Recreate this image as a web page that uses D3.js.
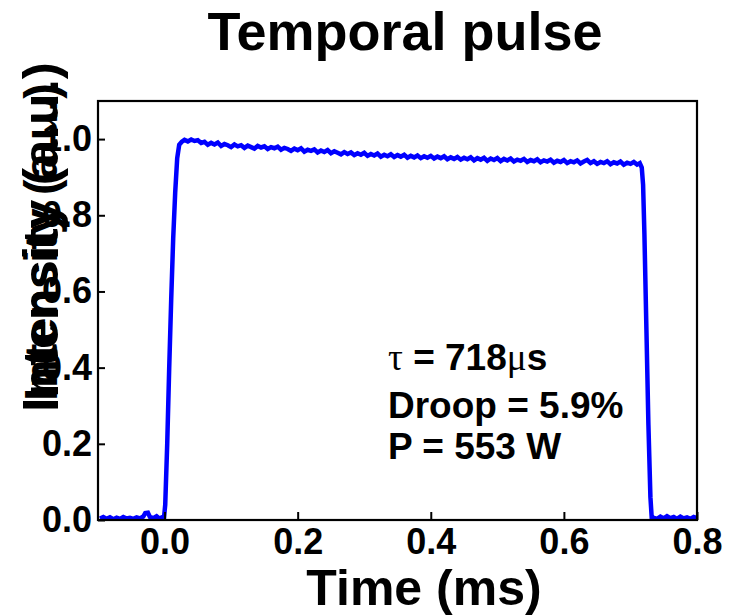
<!DOCTYPE html>
<html>
<head>
<meta charset="utf-8">
<script src="https://cdn.jsdelivr.net/npm/d3@7/dist/d3.min.js"></script>
<style>
  html, body { margin: 0; padding: 0; background: #fff; }
  svg { display: block; }
  text { font-family: "Liberation Sans", Arial, sans-serif; font-weight: bold; fill: #000; }
</style>
</head>
<body>
<svg id="chart" width="738" height="615"></svg>
<script>
// ---- Data ----
const titleText = "Temporal pulse";
const xLabel = "Time (ms)";
const yLabel = "Intensity (a.u.)";
const xTicks = [0.0, 0.2, 0.4, 0.6, 0.8];
const yTicks = [0.0, 0.2, 0.4, 0.6, 0.8, 1.0];
const xDomain = [-0.1, 0.8];
const yDomain = [0, 1.1];

// pre-pulse baseline
const preTime = [-0.097,-0.092,-0.087,-0.082,-0.077,-0.072,-0.067,-0.062,-0.057,-0.052,-0.047,-0.042,-0.037,-0.032,-0.029,-0.025,-0.022,-0.017,-0.012,-0.008,-0.004,-0.001];
const preVal  = [0.004,0.008,0.003,0.007,0.002,0.006,0.003,0.008,0.004,0.006,0.003,0.007,0.004,0.009,0.018,0.019,0.008,0.005,0.010,0.004,0.007,0.003];
// rising edge
const riseTime = [0.001,0.004,0.007,0.010,0.013,0.016,0.019,0.022,0.026];
const riseVal  = [0.04,0.20,0.40,0.58,0.74,0.86,0.95,0.985,0.993];
// flat top (with droop)
const topTime = [0.030,0.035,0.040,0.045,0.050,0.055,0.060,0.065,0.070,0.075,0.080,0.085,0.090,0.095,0.100,0.105,0.110,0.115,0.120,0.125,0.130,0.135,0.140,0.145,0.150,0.155,0.160,0.165,0.170,0.175,0.180,0.185,0.190,0.195,0.200,0.205,0.210,0.215,0.220,0.225,0.230,0.235,0.240,0.245,0.250,0.255,0.260,0.265,0.270,0.275,0.280,0.285,0.290,0.295,0.300,0.305,0.310,0.315,0.320,0.325,0.330,0.335,0.340,0.345,0.350,0.355,0.360,0.365,0.370,0.375,0.380,0.385,0.390,0.395,0.400,0.405,0.410,0.415,0.420,0.425,0.430,0.435,0.440,0.445,0.450,0.455,0.460,0.465,0.470,0.475,0.480,0.485,0.490,0.495,0.500,0.505,0.510,0.515,0.520,0.525,0.530,0.535,0.540,0.545,0.550,0.555,0.560,0.565,0.570,0.575,0.580,0.585,0.590,0.595,0.600,0.605,0.610,0.615,0.620,0.625,0.630,0.635,0.640,0.645,0.650,0.655,0.660,0.665,0.670,0.675,0.680,0.685,0.690,0.695,0.700,0.705,0.710,0.714];
const topVal  = [0.998,0.994,0.999,0.995,0.997,0.990,0.993,0.985,0.990,0.986,0.991,0.982,0.987,0.984,0.979,0.986,0.981,0.984,0.977,0.983,0.979,0.975,0.982,0.978,0.981,0.974,0.979,0.976,0.980,0.972,0.977,0.974,0.969,0.975,0.971,0.976,0.967,0.972,0.969,0.973,0.965,0.970,0.966,0.971,0.963,0.968,0.964,0.960,0.966,0.961,0.965,0.958,0.963,0.959,0.964,0.956,0.961,0.957,0.962,0.954,0.959,0.955,0.960,0.953,0.958,0.954,0.959,0.951,0.956,0.952,0.957,0.950,0.955,0.951,0.956,0.949,0.954,0.950,0.955,0.947,0.952,0.948,0.953,0.946,0.951,0.947,0.952,0.944,0.950,0.946,0.951,0.943,0.949,0.945,0.950,0.942,0.948,0.944,0.949,0.941,0.946,0.943,0.948,0.940,0.945,0.942,0.947,0.939,0.944,0.941,0.946,0.938,0.943,0.940,0.945,0.937,0.942,0.939,0.944,0.936,0.941,0.945,0.937,0.942,0.935,0.940,0.937,0.942,0.934,0.939,0.936,0.941,0.933,0.938,0.935,0.940,0.933,0.937];
// falling edge
const fallTime = [0.717,0.719,0.721,0.724,0.727,0.730,0.732];
const fallVal  = [0.925,0.88,0.75,0.50,0.25,0.06,0.005];
// post-pulse baseline
const postTime = [0.735,0.740,0.745,0.750,0.755,0.760,0.765,0.770,0.775,0.780,0.785,0.790,0.795,0.800];
const postVal  = [0.006,0.003,0.009,0.004,0.010,0.005,0.008,0.003,0.009,0.004,0.007,0.003,0.008,0.005];

const annotLines = ["= 718", "Droop = 5.9%", "P = 553 W"];

// ---- Build series ----
const times = [].concat(preTime, riseTime, topTime, fallTime, postTime);
const vals  = [].concat(preVal, riseVal, topVal, fallVal, postVal);
const series = times.map((t, i) => ({ t: t, v: vals[i] }));

// ---- Layout ----
const svg = d3.select("#chart");
const L = 98, R = 697, T = 101, B = 520;

const x = d3.scaleLinear().domain(xDomain).range([L, R]);
const y = d3.scaleLinear().domain(yDomain).range([B, T]);

svg.append("defs").append("clipPath").attr("id", "clip")
  .append("rect").attr("x", L).attr("y", T - 2).attr("width", R - L).attr("height", B - T + 2);

// data line
svg.append("path")
  .datum(series)
  .attr("clip-path", "url(#clip)")
  .attr("fill", "none")
  .attr("stroke", "#0000ff")
  .attr("stroke-width", 4.5)
  .attr("stroke-linejoin", "miter")
  .attr("d", d3.line().x(d => x(d.t)).y(d => y(d.v)));

// frame
svg.append("rect")
  .attr("x", L).attr("y", T).attr("width", R - L).attr("height", B - T)
  .attr("fill", "none").attr("stroke", "#000").attr("stroke-width", 2.2);

// axes
const xAxis = d3.axisBottom(x).tickValues(xTicks).tickFormat(d3.format(".1f"))
  .tickSizeInner(-8).tickSizeOuter(0).tickPadding(8);
const gx = svg.append("g").attr("transform", `translate(0,${B})`).call(xAxis);
gx.select(".domain").remove();
gx.selectAll(".tick line").attr("stroke", "#000").attr("stroke-width", 2);
gx.selectAll(".tick text").attr("font-size", 36).attr("font-family", "Liberation Sans, Arial, sans-serif").attr("font-weight", "bold");

const yAxis = d3.axisLeft(y).tickValues(yTicks).tickFormat(d3.format(".1f"))
  .tickSizeInner(-7).tickSizeOuter(0).tickPadding(6);
const gy = svg.append("g").attr("transform", `translate(${L},0)`).call(yAxis);
gy.select(".domain").remove();
gy.selectAll(".tick line").attr("stroke", "#000").attr("stroke-width", 2);
gy.selectAll(".tick text").attr("font-size", 36).attr("font-family", "Liberation Sans, Arial, sans-serif").attr("font-weight", "bold");

// title
svg.append("text").attr("x", 405).attr("y", 50).attr("text-anchor", "middle")
  .attr("font-size", 54).text(titleText);

// x label
svg.append("text").attr("x", 424).attr("y", 605).attr("text-anchor", "middle")
  .attr("font-size", 50).text(xLabel);

// y label (doubled, overlapping as in the reference)
svg.append("text").attr("transform", "translate(58,237) rotate(-90)")
  .attr("text-anchor", "middle").attr("font-size", 50)
  .attr("textLength", 350).attr("lengthAdjust", "spacingAndGlyphs").text(yLabel);
svg.append("text").attr("transform", "translate(57,242) rotate(-90)")
  .attr("text-anchor", "middle").attr("font-size", 46)
  .attr("textLength", 318).attr("lengthAdjust", "spacingAndGlyphs").text(yLabel);

// annotation
const ann = svg.append("g").attr("font-size", 37);
const l1 = ann.append("text").attr("x", 388).attr("y", 370);
l1.append("tspan").attr("font-family", "Liberation Serif, serif").attr("font-weight", "normal").text("\u03C4");
l1.append("tspan").text(" " + annotLines[0]);
l1.append("tspan").attr("font-family", "Liberation Serif, serif").attr("font-weight", "normal").text("\u03BC");
l1.append("tspan").text("s");
ann.append("text").attr("x", 388).attr("y", 418).text(annotLines[1]);
ann.append("text").attr("x", 388).attr("y", 459).text(annotLines[2]);
</script>
</body>
</html>
